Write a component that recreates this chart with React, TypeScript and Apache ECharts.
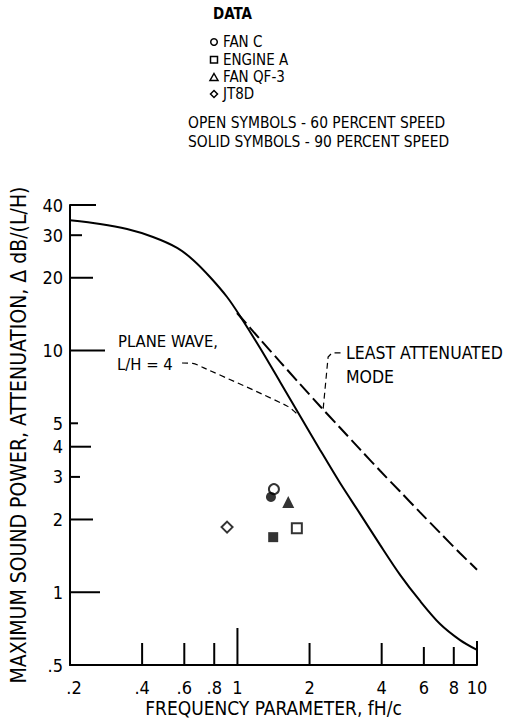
import React, { useEffect, useRef } from 'react';
import * as echarts from 'echarts';

// ---------- data ----------
const xTicks = [0.2, 0.4, 0.6, 0.8, 1, 2, 4, 6, 8, 10];
const xTickLabels = ['.2', '.4', '.6', '.8', '1', '2', '4', '6', '8', '10'];
const yTicks = [0.5, 1, 2, 3, 4, 5, 10, 20, 30, 40];
const yTickLabels = ['.5', '1', '2', '3', '4', '5', '10', '20', '30', '40'];

// Plane wave, L/H = 4 (solid)
const planeWaveX = [0.2, 0.267, 0.346, 0.444, 0.56, 0.653, 0.768, 0.905, 1.025, 1.243, 1.507, 1.826, 2.213, 2.682, 3.251, 3.94, 4.775, 5.787, 7.014, 8.5, 10];
const planeWaveY = [34.6, 33.4, 31.8, 29.5, 26.6, 23.7, 20.15, 16.65, 13.9, 10.24, 7.41, 5.36, 3.88, 2.83, 2.11, 1.57, 1.18, 0.92, 0.739, 0.634, 0.577];

// Least attenuated mode (dashed)
const leastModeX = [0.996, 1.243, 1.507, 1.826, 2.213, 2.682, 3.251, 3.94, 4.775, 5.787, 7.014, 8.5, 10];
const leastModeY = [14.3, 11.13, 8.98, 7.26, 5.88, 4.79, 3.9, 3.18, 2.61, 2.14, 1.76, 1.45, 1.24];

const fanC60 = [[1.42, 2.67]];
const fanC90 = [[1.38, 2.48]];
const engineA60 = [[1.77, 1.84]];
const engineA90 = [[1.41, 1.69]];
const fanQF3_90 = [[1.63, 2.36]];
const jt8d60 = [[0.905, 1.86]];

const planeWaveLeaderX = [0.587, 0.65, 0.72, 1.61, 1.79];
const planeWaveLeaderY = [8.88, 8.85, 8.5, 5.9, 5.42];
const leastLeaderX = [2.28, 2.39, 2.48, 2.79];
const leastLeaderY = [5.75, 9.4, 9.77, 9.77];

const legendNames = ['FAN C', 'ENGINE A', 'FAN QF-3', 'JT8D'];

// ---------- styles ----------
const FONT = "'DejaVu Sans Condensed', 'DejaVu Sans', sans-serif";
const X_TICK_LEN = [0, 22, 22, 22, 37, 22, 22, 18, 18, 24];
const Y_TICK_LEN = [0, 30, 23, 10, 21, 8, 35, 23, 12, 26];

const zip = (xs: number[], ys: number[]) => xs.map((x, i) => [x, ys[i]]);

export default function App() {
  const ref = useRef<HTMLDivElement>(null);
  useEffect(() => {
    document.body.style.margin = '0';
    const chart = echarts.init(ref.current!, null, { renderer: 'svg' });
    const txt = (text: string, x: number, y: number, size: number, extra: any = {}) => ({
      type: 'text', x, y, silent: true,
      style: { text, fontSize: size, fontFamily: FONT, fill: '#000', align: 'left', textAlign: 'left', verticalAlign: 'middle', textVerticalAlign: 'middle', ...extra },
    });
    const sym = { stroke: '#000', lineWidth: 1.5, fill: '#fff' };
    const option: any = {
      animation: false,
      backgroundColor: '#fff',
      grid: { left: 70, top: 205, width: 407, height: 460, containLabel: false, outerBoundsMode: 'none' },
      xAxis: {
        type: 'log', logBase: 10, min: 0.2, max: 10,
        axisLine: { show: true, lineStyle: { color: '#000', width: 2 } },
        axisTick: { show: false }, axisLabel: { show: false }, splitLine: { show: false },
        name: 'FREQUENCY PARAMETER, fH/c', nameLocation: 'middle', nameGap: 33,
        nameTextStyle: { fontSize: 19, fontFamily: FONT, color: '#000' },
      },
      yAxis: {
        type: 'log', logBase: 10, min: 0.5, max: 40,
        axisLine: { show: true, lineStyle: { color: '#000', width: 2 } },
        axisTick: { show: false }, axisLabel: { show: false }, splitLine: { show: false },
        name: 'MAXIMUM SOUND POWER, ATTENUATION, \u0394 dB/(L/H)', nameLocation: 'middle', nameGap: 41,
        nameTextStyle: { fontSize: 21, fontFamily: FONT, color: '#000' },
      },
      series: [
        {
          type: 'custom', silent: true, clip: false,
          data: xTicks.map((v) => [v, 0.5]),
          renderItem: (params: any, api: any) => {
            const i = params.dataIndex;
            const p = api.coord([api.value(0), api.value(1)]);
            return {
              type: 'group', children: [
                { type: 'line', shape: { x1: p[0], y1: p[1], x2: p[0], y2: p[1] - X_TICK_LEN[i] }, style: { stroke: '#000', lineWidth: 2 } },
                { type: 'text', x: p[0] + (i === 0 ? 4 : 0), y: p[1] + 22, style: { text: xTickLabels[i], fontSize: 18, fontFamily: FONT, fill: '#000', align: 'center', textAlign: 'center', verticalAlign: 'middle', textVerticalAlign: 'middle' } },
              ],
            };
          },
        },
        {
          type: 'custom', silent: true, clip: false,
          data: yTicks.map((v) => [0.2, v]),
          renderItem: (params: any, api: any) => {
            const i = params.dataIndex;
            const p = api.coord([api.value(0), api.value(1)]);
            return {
              type: 'group', children: [
                { type: 'line', shape: { x1: p[0], y1: p[1], x2: p[0] + Y_TICK_LEN[i], y2: p[1] }, style: { stroke: '#000', lineWidth: 2 } },
                { type: 'text', x: p[0] - 7, y: p[1], style: { text: yTickLabels[i], fontSize: 18, fontFamily: FONT, fill: '#000', align: 'right', textAlign: 'right', verticalAlign: 'middle', textVerticalAlign: 'middle' } },
              ],
            };
          },
        },
        {
          type: 'line', data: zip(planeWaveX, planeWaveY), smooth: 0.3, showSymbol: false, silent: true,
          lineStyle: { color: '#000', width: 2 },
        },
        {
          type: 'line', data: zip(leastModeX, leastModeY), smooth: 0.3, showSymbol: false, silent: true,
          lineStyle: { color: '#000', width: 2, type: [14, 5] },
        },
        {
          type: 'line', data: zip(planeWaveLeaderX, planeWaveLeaderY), smooth: 0.3, showSymbol: false, silent: true,
          lineStyle: { color: '#000', width: 1.2, type: [6, 4] },
        },
        {
          type: 'line', data: zip(leastLeaderX, leastLeaderY), smooth: false, showSymbol: false, silent: true,
          lineStyle: { color: '#000', width: 1.2, type: [6, 4] },
        },
        { type: 'scatter', data: fanC60, symbol: 'circle', symbolSize: 10, itemStyle: { color: '#fff', borderColor: '#000', borderWidth: 2 }, silent: true },
        { type: 'scatter', data: fanC90, symbol: 'circle', symbolSize: 10, itemStyle: { color: '#000' }, silent: true },
        { type: 'scatter', data: engineA60, symbol: 'rect', symbolSize: 10, itemStyle: { color: '#fff', borderColor: '#000', borderWidth: 2 }, silent: true },
        { type: 'scatter', data: engineA90, symbol: 'rect', symbolSize: 10, itemStyle: { color: '#000' }, silent: true },
        { type: 'scatter', data: fanQF3_90, symbol: 'triangle', symbolSize: 12, itemStyle: { color: '#000' }, silent: true },
        { type: 'scatter', data: jt8d60, symbol: 'diamond', symbolSize: 11, itemStyle: { color: '#fff', borderColor: '#000', borderWidth: 2 }, silent: true },
      ],
      graphic: [
        txt('DATA', 213, 14, 15, { fontWeight: 'bold' }),
        { type: 'circle', shape: { cx: 214, cy: 42, r: 3.3 }, style: sym, silent: true },
        { type: 'rect', shape: { x: 210.5, y: 56.5, width: 7, height: 6.5 }, style: sym, silent: true },
        { type: 'polygon', shape: { points: [[214, 73.5], [218, 80.5], [210, 80.5]] }, style: sym, silent: true },
        { type: 'polygon', shape: { points: [[214, 90.5], [217.5, 94], [214, 97.5], [210.5, 94]] }, style: sym, silent: true },
        txt(legendNames[0], 223, 42, 15),
        txt(legendNames[1], 223, 60, 15),
        txt(legendNames[2], 223, 77, 15),
        txt(legendNames[3], 223, 94, 15),
        txt('OPEN SYMBOLS - 60 PERCENT SPEED', 188, 123, 15.4),
        txt('SOLID SYMBOLS - 90 PERCENT SPEED', 188, 142, 15.4),
        txt('PLANE WAVE,', 118, 341, 16.5),
        txt('L/H = 4', 117, 364, 16.5),
        txt('LEAST ATTENUATED', 346, 353, 17.5),
        txt('MODE', 346, 377, 17.5),
      ],
    };
    chart.setOption(option);
    return () => chart.dispose();
  }, []);
  return <div ref={ref} style={{ position: 'absolute', left: 0, top: 0, width: 510, height: 721 }} />;
}
